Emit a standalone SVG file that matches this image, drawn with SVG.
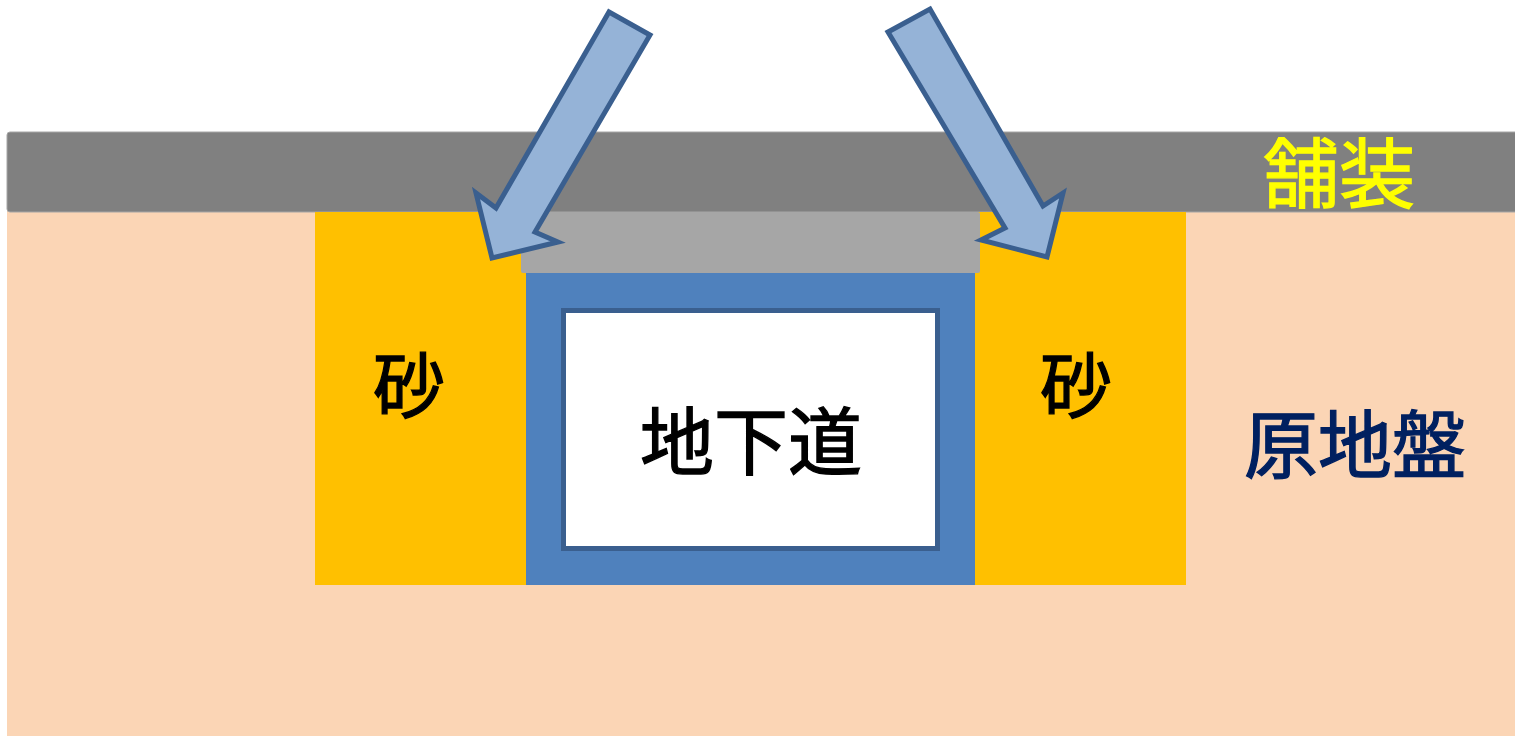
<svg xmlns="http://www.w3.org/2000/svg" width="1515" height="736" viewBox="0 0 1515 736">
<style>
.sand{fill:#ffc000}
.arrow{fill:#95b3d7;stroke:#3a5f8f;stroke-width:5;stroke-linejoin:miter}
.t{font-family:"Noto Sans CJK JP","Noto Sans CJK SC",sans-serif;text-anchor:middle;font-weight:400;stroke-width:1.3}
</style>
<rect width="1515" height="736" fill="#ffffff"/>
<g id="ground">
<rect x="7" y="205" width="1508" height="531" fill="#fbd5b5"/>
<text class="t" x="1355" y="472" font-size="74" fill="#002060" stroke="#002060">原地盤</text>
</g>
<g id="pavement">
<rect x="7" y="132" width="1512" height="80" rx="3" fill="#808080" stroke="#a6a6a6" stroke-width="1"/>
<text class="t" x="1339" y="202" font-size="76" fill="#ffff00" stroke="#ffff00">舗装</text>
</g>
<g id="sand-left">
<rect class="sand" x="315" y="212" width="211" height="373"/>
<text class="t" x="409" y="412" font-size="72" fill="#000000" stroke="#000000">砂</text>
</g>
<g id="sand-right">
<rect class="sand" x="975" y="212" width="211" height="373"/>
<text class="t" x="1076" y="412" font-size="72" fill="#000000" stroke="#000000">砂</text>
</g>
<g id="box">
<rect x="526" y="270" width="449" height="315" fill="#4f81bd"/>
<rect x="521" y="212" width="459" height="61" rx="2" fill="#a6a6a6"/>
</g>
<g id="tunnel">
<rect x="563.5" y="310.5" width="374" height="238" fill="#ffffff" stroke="#3a5f8f" stroke-width="5"/>
<text class="t" x="751" y="469" font-size="74" fill="#000000" stroke="#000000">地下道</text>
</g>
<g id="connectors">
<polygon class="arrow" points="609,12 650,35 535,232 558,242 492,258 476,193 496,208"/>
<polygon class="arrow" points="888,32 930,9 1043,206 1063,193 1047,257 981,240 1005,228"/>
</g>
</svg>
